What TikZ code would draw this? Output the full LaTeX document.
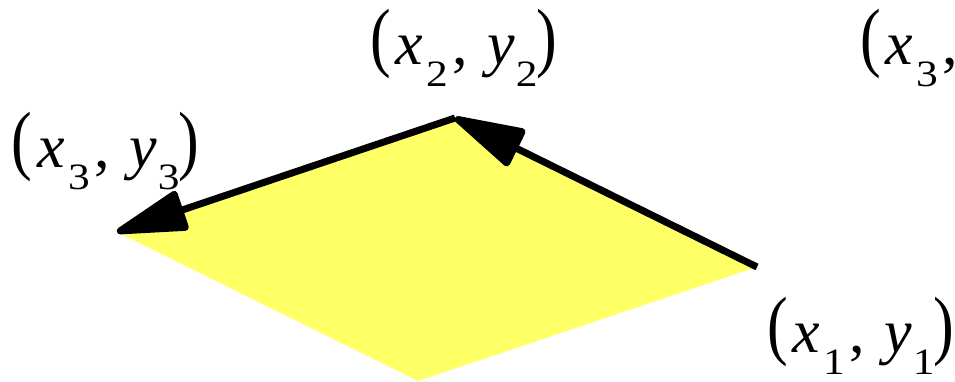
\documentclass[tikz,border=0pt]{standalone}
\usepackage{fontspec}
\setmainfont{Liberation Serif}
\usepackage{graphicx}
\usetikzlibrary{arrows.meta}
\definecolor{polyyellow}{RGB}{255,255,102}
\newcommand{\subdig}[1]{\raisebox{-22pt}{\scalebox{0.7}[0.6]{#1}}}
\newcommand{\bigpar}[1]{\raisebox{2pt}{\scalebox{1}[1.24]{#1}}}
\newcommand{\ptlabel}[4]{\fontsize{62}{68}\selectfont\bigpar{(}\kern5pt\textit{#1}\kern3pt\subdig{#2}\kern5pt,\kern19pt\textit{#3}\kern1pt\subdig{#4}\kern-1pt\bigpar{)}}
\tikzset{
  vecarrow/.style={line width=7pt, -{Triangle[length=80pt,width=42pt,round]}},
  ptlab/.style={anchor=base west, inner sep=0pt, outer sep=0pt}
}
\begin{document}
\begin{tikzpicture}[x=1pt,y=1pt]
\useasboundingbox (0,0) rectangle (955,381);
\clip (0,0) rectangle (955,381);
\coordinate (p1) at (757,114);
\coordinate (p2) at (455,263);
\coordinate (p3) at (117,149);
\coordinate (p4) at (418,0);
\fill[polyyellow] (p1) -- (p2) -- (p3) -- (p4) -- cycle;
\draw[vecarrow] (p1) -- (p2);
\draw[vecarrow] (p2) -- (p3);
\node[ptlab] (l2) at (370,316) {\ptlabel{x}{2}{y}{2}};
\node[ptlab] (l3) at (12,214) {\ptlabel{x}{3}{y}{3}};
\node[ptlab] (l1) at (767,29) {\ptlabel{x}{1}{y}{1}};
\node[ptlab] (l3b) at (860,316) {\ptlabel{x}{3}{y}{3}};
\end{tikzpicture}
\end{document}
